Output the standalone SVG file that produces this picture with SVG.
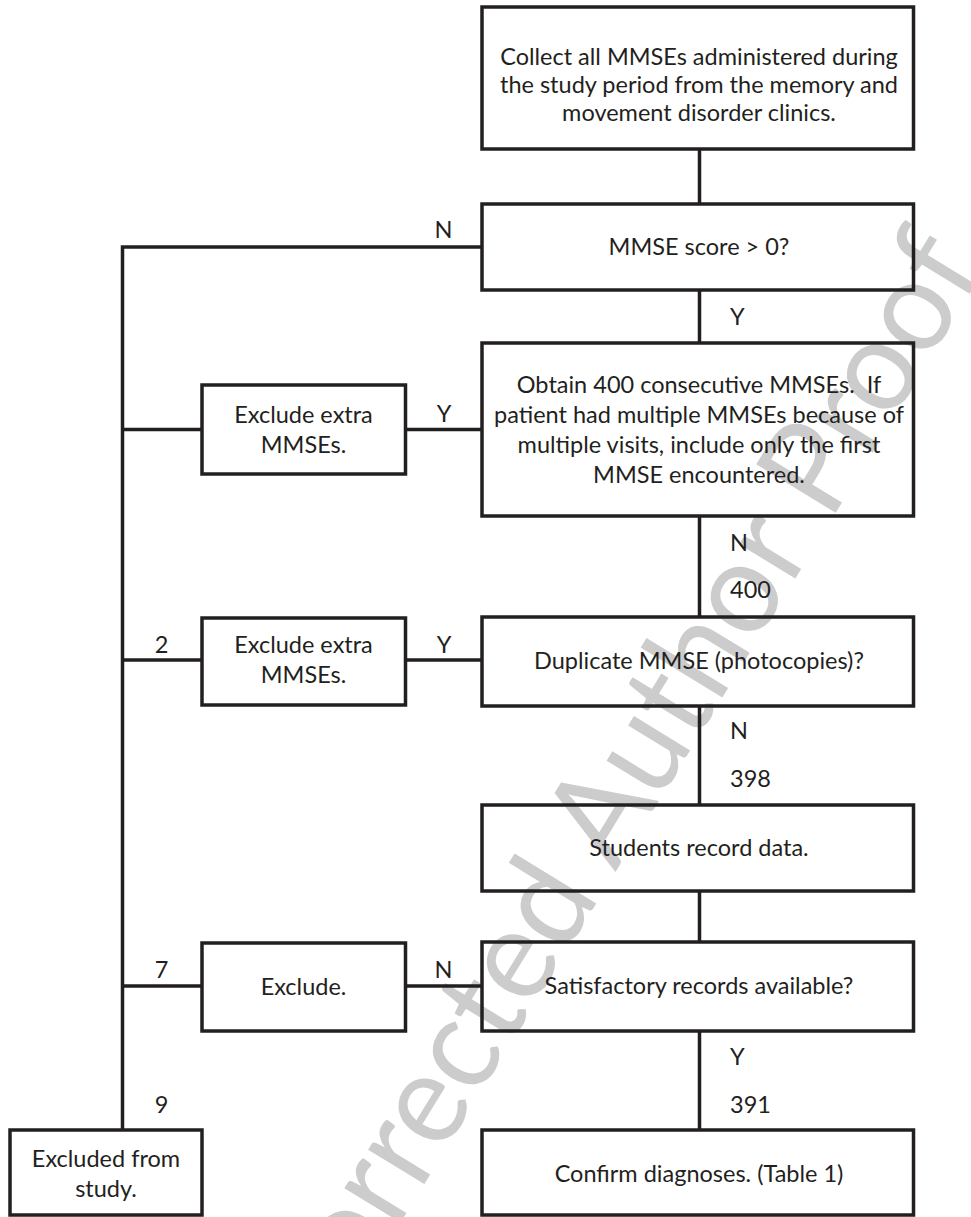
<svg xmlns="http://www.w3.org/2000/svg" width="971" height="1217" viewBox="0 0 971 1217">
<style>
.box{fill:none;stroke:#231f20;stroke-width:3.5}
.conn{fill:none;stroke:#231f20;stroke-width:3.5}
.t{font-family:Lato,"Liberation Sans",sans-serif;font-size:23.5px;fill:#231f20}
.c{text-anchor:middle}
.wm{font-family:Lato,"Liberation Sans",sans-serif;font-size:130px;fill:#cccccc}
</style>
<rect x="0" y="0" width="971" height="1217" fill="#ffffff"/>
<g id="watermark">
<text class="wm" x="246" y="1475" transform="rotate(-58.5 246 1475)" textLength="1416" lengthAdjust="spacingAndGlyphs">Uncorrected Author Proof</text>
</g>
<g id="connectors">
<path class="conn" d="M699.5 149V204M699.5 290V343M699.5 516V617M699.5 706V805M699.5 891V942M699.5 1031V1130"/>
<path class="conn" d="M482 247H122.5V1130"/>
<path class="conn" d="M482 429.5H405.5M202 429.5H122.5"/>
<path class="conn" d="M482 660H405.5M202 660H122.5"/>
<path class="conn" d="M482 986H405.5M202 986H122.5"/>
</g>
<g id="labels" class="t">
<text class="c" x="443.5" y="238">N</text>
<text class="c" x="444" y="422">Y</text>
<text class="c" x="161.5" y="653">2</text>
<text class="c" x="444" y="653">Y</text>
<text class="c" x="161.5" y="978">7</text>
<text class="c" x="443.5" y="978">N</text>
<text class="c" x="161.5" y="1113">9</text>
<text x="730" y="325">Y</text>
<text x="730" y="551">N</text>
<text x="730" y="598">400</text>
<text x="730" y="739">N</text>
<text x="730" y="787">398</text>
<text x="730" y="1065">Y</text>
<text x="730" y="1113">391</text>
</g>
<g id="collect">
<rect class="box" x="482" y="7" width="431.5" height="142"/>
<text class="t c" x="699" y="65">Collect all MMSEs administered during</text>
<text class="t c" x="699" y="93">the study period from the memory and</text>
<text class="t c" x="699" y="121">movement disorder clinics.</text>
</g>
<g id="score">
<rect class="box" x="482" y="204" width="431.5" height="86"/>
<text class="t c" x="699" y="255">MMSE score &gt; 0?</text>
</g>
<g id="obtain">
<rect class="box" x="482" y="343" width="431.5" height="173"/>
<text class="t c" x="699" y="393" xml:space="preserve">Obtain 400 consecutive MMSEs.  If</text>
<text class="t c" x="699" y="423">patient had multiple MMSEs because of</text>
<text class="t c" x="699" y="453">multiple visits, include only the first</text>
<text class="t c" x="699" y="483">MMSE encountered.</text>
</g>
<g id="duplicate">
<rect class="box" x="482" y="617" width="431.5" height="89"/>
<text class="t c" x="699" y="669">Duplicate MMSE (photocopies)?</text>
</g>
<g id="students">
<rect class="box" x="482" y="805" width="431.5" height="86"/>
<text class="t c" x="699" y="856">Students record data.</text>
</g>
<g id="satisfactory">
<rect class="box" x="482" y="942" width="431.5" height="89"/>
<text class="t c" x="699" y="994">Satisfactory records available?</text>
</g>
<g id="confirm">
<rect class="box" x="482" y="1130" width="431.5" height="85"/>
<text class="t c" x="699" y="1182">Confirm diagnoses. (Table 1)</text>
</g>
<g id="exclude1">
<rect class="box" x="202" y="385" width="203.5" height="89"/>
<text class="t c" x="303.5" y="423">Exclude extra</text>
<text class="t c" x="303.5" y="453">MMSEs.</text>
</g>
<g id="exclude2">
<rect class="box" x="202" y="618" width="203.5" height="87"/>
<text class="t c" x="303.5" y="653">Exclude extra</text>
<text class="t c" x="303.5" y="683">MMSEs.</text>
</g>
<g id="exclude3">
<rect class="box" x="202" y="943" width="203.5" height="88"/>
<text class="t c" x="303.5" y="995">Exclude.</text>
</g>
<g id="excluded">
<rect class="box" x="10" y="1130" width="192" height="85"/>
<text class="t c" x="106" y="1167">Excluded from</text>
<text class="t c" x="106" y="1197">study.</text>
</g>
</svg>
